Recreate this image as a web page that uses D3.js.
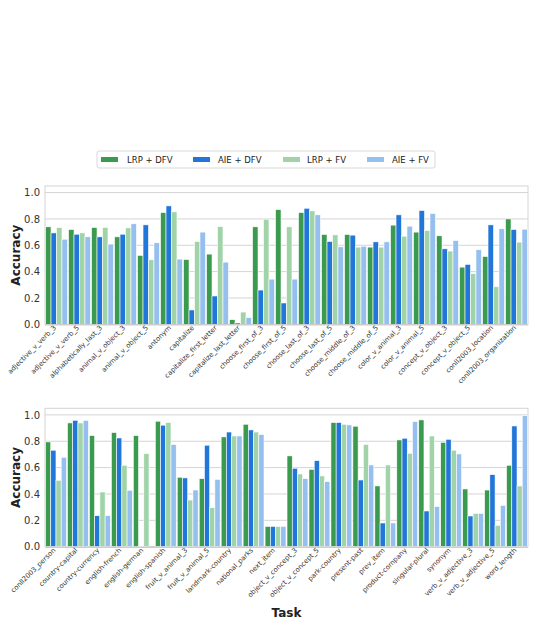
<!DOCTYPE html>
<html><head><meta charset="utf-8">
<script src="https://cdn.jsdelivr.net/npm/d3@7"></script>
<style>body{margin:0;background:#fff;font-family:"DejaVu Sans",sans-serif;}</style>
</head><body><div id="chart"></div>
<script>
const seriesNames = ["LRP + DFV","AIE + DFV","LRP + FV","AIE + FV"];
const seriesColors = ["#3a9a4d","#2176d9","#a0d4a8","#94bfee"];

const tasksTop = ["adjective_v_verb_3","adjective_v_verb_5","alphabetically_last_3","animal_v_object_3","animal_v_object_5","antonym","capitalize","capitalize_first_letter","capitalize_last_letter","choose_first_of_3","choose_first_of_5","choose_last_of_3","choose_last_of_5","choose_middle_of_3","choose_middle_of_5","color_v_animal_3","color_v_animal_5","concept_v_object_3","concept_v_object_5","conll2003_location","conll2003_organization"];
const lrpDfvTop = [0.74,0.72,0.735,0.664,0.523,0.848,0.492,0.533,0.035,0.74,0.871,0.848,0.682,0.682,0.586,0.753,0.70,0.672,0.434,0.515,0.80];
const aieDfvTop = [0.694,0.684,0.664,0.684,0.755,0.899,0.109,0.215,0.01,0.26,0.162,0.881,0.629,0.677,0.626,0.831,0.864,0.573,0.455,0.755,0.72];
const lrpFvTop  = [0.735,0.694,0.735,0.732,0.49,0.854,0.629,0.742,0.093,0.798,0.74,0.861,0.679,0.586,0.586,0.669,0.712,0.556,0.384,0.285,0.624];
const aieFvTop  = [0.646,0.664,0.609,0.763,0.619,0.495,0.70,0.472,0.05,0.343,0.343,0.831,0.588,0.593,0.626,0.745,0.841,0.636,0.566,0.725,0.722];

const tasksBottom = ["conll2003_person","country-capital","country-currency","english-french","english-german","english-spanish","fruit_v_animal_3","fruit_v_animal_5","landmark-country","national_parks","next_item","object_v_concept_3","object_v_concept_5","park-country","present-past","prev_item","product-company","singular-plural","synonym","verb_v_adjective_3","verb_v_adjective_5","word_length"];
const lrpDfvBottom = [0.795,0.939,0.843,0.866,0.843,0.952,0.527,0.516,0.833,0.929,0.154,0.689,0.587,0.942,0.914,0.461,0.81,0.962,0.792,0.438,0.43,0.618];
const aieDfvBottom = [0.732,0.959,0.235,0.825,0.005,0.922,0.522,0.77,0.87,0.886,0.154,0.595,0.653,0.942,0.506,0.18,0.823,0.271,0.815,0.233,0.547,0.916];
const lrpFvBottom  = [0.504,0.939,0.415,0.618,0.706,0.942,0.354,0.296,0.84,0.87,0.154,0.552,0.537,0.929,0.775,0.62,0.709,0.84,0.732,0.253,0.162,0.461];
const aieFvBottom  = [0.678,0.959,0.235,0.428,0.0,0.775,0.43,0.511,0.84,0.851,0.154,0.516,0.494,0.924,0.62,0.18,0.949,0.304,0.704,0.253,0.314,0.995];

const yTicks = [0,0.2,0.4,0.6,0.8,1.0];

const W = 536, H = 624;
const svg = d3.select("#chart").append("svg").attr("width", W).attr("height", H);

function drawPanel(tasks, seriesData, top, bottom, showXLabel) {
  const left = 45, right = 528;
  const x = d3.scaleBand().domain(tasks).range([left, right]).paddingInner(0).paddingOuter(0);
  const xs = d3.scaleBand().domain(seriesNames).range([0, x.bandwidth()]).paddingInner(0).paddingOuter(0.1);
  const y = d3.scaleLinear().domain([0, 1.05]).range([bottom, top]);
  const g = svg.append("g");

  // grid
  g.selectAll("line.grid").data(yTicks).join("line")
    .attr("x1", left).attr("x2", right)
    .attr("y1", d => y(d)).attr("y2", d => y(d))
    .attr("stroke", "#d4d4d4").attr("stroke-width", 1);

  // frame
  g.append("rect").attr("x", left).attr("y", top).attr("width", right-left).attr("height", bottom-top)
    .attr("fill", "none").attr("stroke", "#d4d4d4").attr("stroke-width", 1);

  // bars
  seriesNames.forEach((s, si) => {
    g.append("g").selectAll("rect").data(tasks).join("rect")
      .attr("x", d => x(d) + xs(s))
      .attr("width", xs.bandwidth())
      .attr("y", (d, i) => y(seriesData[si][i]))
      .attr("height", (d, i) => y(0) - y(seriesData[si][i]))
      .attr("fill", seriesColors[si])
      .attr("stroke", "#fff").attr("stroke-width", 0.6);
  });

  // bottom spine
  g.append("line").attr("x1", left).attr("x2", right).attr("y1", y(0)+0.5).attr("y2", y(0)+0.5)
    .attr("stroke", "#cccccc").attr("stroke-width", 1.5);

  // y axis
  const ya = d3.axisLeft(y).tickValues(yTicks).tickFormat(d3.format(".1f")).tickSize(0).tickPadding(5);
  const yg = g.append("g").attr("transform", `translate(${left},0)`).call(ya);
  yg.select(".domain").remove();
  yg.selectAll("text").attr("font-size", 10).attr("fill", "#333").attr("font-family", "DejaVu Sans");

  // x axis
  const xa = d3.axisBottom(x).tickSize(0).tickPadding(0);
  const xg = g.append("g").attr("transform", `translate(0,${bottom})`).call(xa);
  xg.select(".domain").remove();
  xg.selectAll("text")
    .attr("font-size", 6.8).attr("fill", "#333").attr("font-family", "DejaVu Sans")
    .attr("text-anchor", "end").attr("dy", 0)
    .attr("transform", "translate(0,4) rotate(-45)");

  // y label
  g.append("text").attr("transform", `translate(20,${(top+bottom)/2}) rotate(-90)`)
    .attr("text-anchor", "middle").attr("font-size", 12).attr("font-weight", "bold")
    .attr("fill", "#222").text("Accuracy");

  if (showXLabel) {
    g.append("text").attr("x", (left+right)/2).attr("y", 617).attr("text-anchor", "middle")
      .attr("font-size", 12).attr("font-weight", "bold").attr("fill", "#222").text("Task");
  }
}

drawPanel(tasksTop, [lrpDfvTop, aieDfvTop, lrpFvTop, aieFvTop], 186, 324.3, false);
drawPanel(tasksBottom, [lrpDfvBottom, aieDfvBottom, lrpFvBottom, aieFvBottom], 408.3, 546.7, true);

// legend
const lg = svg.append("g");
lg.append("rect").attr("x", 97).attr("y", 151).attr("width", 338).attr("height", 17)
  .attr("rx", 2).attr("fill", "#fff").attr("stroke", "#d9d9d9");
const swX = [101, 193, 283, 367];
const txX = [127, 218, 307, 392];
seriesNames.forEach((s, i) => {
  lg.append("rect").attr("x", swX[i]).attr("y", 157).attr("width", 17).attr("height", 5).attr("fill", seriesColors[i]);
  lg.append("text").attr("x", txX[i]).attr("y", 163).attr("font-size", 8.5).attr("fill", "#222")
    .attr("font-family", "DejaVu Sans").text(s);
});
</script></body></html>
